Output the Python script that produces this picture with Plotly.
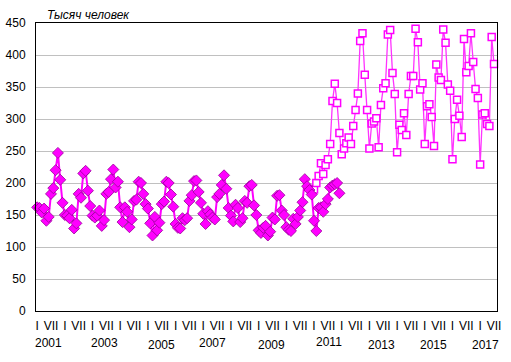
import plotly.graph_objects as go

# ---- data ----
years = list(range(2001, 2018))
month_marks = ["I", "VII"]

# series 1 (filled diamonds), Jan 2001 .. Dec 2011
diamond_vals = (
    [162, 161, 154, 160, 141, 147, 183, 192, 220, 247, 205, 169]    # 2001
    + [150, 149, 145, 158, 129, 137, 183, 177, 215, 219, 188, 164]  # 2002
    + [149, 146, 149, 157, 133, 142, 183, 186, 206, 221, 193, 202]  # 2003
    + [162, 139, 162, 155, 131, 143, 172, 174, 202, 200, 183, 167]  # 2004
    + [160, 137, 118, 147, 126, 138, 167, 171, 202, 200, 182, 163]  # 2005
    + [136, 130, 129, 145, 142, 145, 172, 181, 203, 204, 186, 169]  # 2006
    + [152, 136, 156, 151, 146, 143, 178, 183, 197, 212, 191, 161]  # 2007
    + [149, 140, 166, 161, 139, 145, 172, 169, 195, 197, 165, 150]  # 2008
    + [126, 122, 130, 133, 118, 124, 146, 143, 180, 181, 157, 150]  # 2009
    + [131, 127, 125, 144, 136, 147, 157, 170, 206, 195, 189, 182]  # 2010
    + [141, 125, 161, 162, 155, 167, 175, 193, 196, 198, 200, 184]  # 2011
)

# series 2 (open squares), Jan 2011 .. Jul 2017
square_start = 120
square_vals = (
    [190, 200, 211, 231, 214, 228, 237, 261, 328, 355, 325, 278]    # 2011
    + [245, 254, 262, 271, 261, 289, 314, 340, 422, 434, 369, 314]  # 2012
    + [254, 293, 296, 301, 256, 322, 348, 356, 432, 439, 372, 339]  # 2013
    + [248, 291, 283, 309, 275, 339, 367, 367, 441, 420, 346, 356]  # 2014
    + [261, 320, 323, 303, 258, 385, 365, 361, 440, 419, 354, 344]  # 2015
    + [237, 300, 330, 305, 272, 425, 373, 383, 434, 389, 347, 333]  # 2016
    + [229, 307, 309, 292, 289, 428, 386]                           # 2017
)

year_labels = [2001, 2003, 2005, 2007, 2009, 2011, 2013, 2015, 2017]
year_label_offset = [5.1, 5.4, 5.7, 3.8, 5.7, 6.7, 5.4, 3.8, 2.5]
year_label_shift = [-32, -32, -34, -32, -34, -31, -34, -34, -34]

# ---- figure ----
x_d = list(range(len(diamond_vals)))
x_s = list(range(square_start, square_start + len(square_vals)))

fig = go.Figure()
fig.add_trace(go.Scatter(
    x=x_s, y=square_vals, mode="lines+markers",
    line=dict(color="#FF33FF", width=1.3),
    marker=dict(symbol="square", size=7, color="white",
                line=dict(color="#FF00FF", width=1.5)),
    cliponaxis=False, showlegend=False))
fig.add_trace(go.Scatter(
    x=x_d, y=diamond_vals, mode="lines+markers",
    line=dict(color="#FF00FF", width=2),
    marker=dict(symbol="diamond", size=8.5, color="#FF00FF",
                line=dict(color="#990099", width=0.8)),
    cliponaxis=False, showlegend=False))

tickvals, ticktext = [], []
for i, y in enumerate(years):
    for j, m in enumerate(month_marks):
        v = i * 12 + j * 6
        if v <= 198:
            tickvals.append(v)
            ticktext.append(m)

font = dict(family="Liberation Sans, Arial, sans-serif", size=12, color="black")

fig.update_layout(
    width=511, height=362,
    margin=dict(l=36, r=14, t=23, b=51, autoexpand=False),
    paper_bgcolor="white", plot_bgcolor="white",
    font=font,
    xaxis=dict(range=[-0.5, 199.3], tickvals=tickvals, ticktext=ticktext,
               showgrid=False, zeroline=False, showline=True, mirror=True,
               linecolor="black", linewidth=1, ticks="outside", ticklen=4,
               tickcolor="rgba(0,0,0,0)", tickfont=font, automargin=False),
    yaxis=dict(range=[0, 450], dtick=50, showgrid=True, gridcolor="#C0C0C0",
               gridwidth=1, zeroline=False, showline=True, mirror=True,
               linecolor="black", linewidth=1, ticks="outside", ticklen=7,
               tickcolor="rgba(0,0,0,0)", tickfont=font, automargin=False),
)

annotations = [dict(text="<i>Тысяч человек</i>", xref="paper", yref="paper",
                    x=0.02, y=1.0, xanchor="left", yanchor="bottom",
                    showarrow=False, font=font, yshift=-1)]
for yl, off, sh in zip(year_labels, year_label_offset, year_label_shift):
    annotations.append(dict(text=str(yl), xref="x", yref="paper",
                            x=(yl - years[0]) * 12 + off, y=0,
                            xanchor="center", yanchor="middle",
                            yshift=sh, showarrow=False, font=font))
fig.update_layout(annotations=annotations)

fig.write_html("out.html", config={"displayModeBar": False},
               post_script="document.body.style.margin='0';")
